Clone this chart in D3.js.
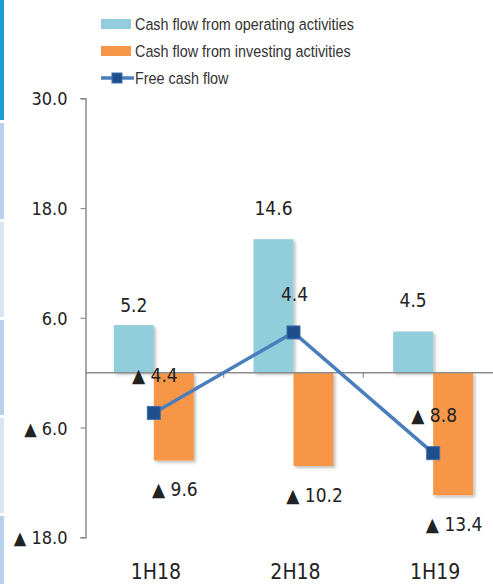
<!DOCTYPE html>
<html>
<head>
<meta charset="utf-8">
<script src="https://cdn.jsdelivr.net/npm/d3@7"></script>
<style>
  html, body { margin: 0; padding: 0; background: #ffffff; }
  svg { display: block; }
</style>
</head>
<body>
<svg id="chart" width="493" height="584"></svg>
<script>
// ---------- data ----------
const categories = ["1H18", "2H18", "1H19"];
const operatingCF = [5.2, 14.6, 4.5];
const investingCF = [-9.6, -10.2, -13.4];
const freeCF = [-4.4, 4.4, -8.8];
const yTickValues = [30, 18, 6, -6, -18];
const seriesNames = ["Cash flow from operating activities", "Cash flow from investing activities", "Free cash flow"];

// ---------- styles ----------
const numFont = "'DejaVu Sans Condensed', 'DejaVu Sans', sans-serif";
const legendFont = "'Liberation Sans', Arial, sans-serif";
const blue = "#92cddc", orange = "#f79646", lineColor = "#4a7ebb", markerFill = "#1f4e8c";

const svg = d3.select("#chart");

// decorative left strip
const stripBreaks = [0, 120, 219, 317, 415, 513, 584];
const stripColors = ["#1a9fd6", "#b9d0ea", "#dbe6f3", "#b9d0ea", "#dbe6f3", "#b9d0ea"];
svg.selectAll("rect.strip").data(stripColors).join("rect")
  .attr("class", "strip")
  .attr("x", 0).attr("width", 4)
  .attr("y", (d, i) => stripBreaks[i] + (i === 0 ? 0 : 3))
  .attr("height", (d, i) => stripBreaks[i + 1] - stripBreaks[i] - (i === 0 ? 0 : 3))
  .attr("fill", d => d);

// shadow filter
const defs = svg.append("defs");
const f = defs.append("filter").attr("id", "shadow").attr("x", "-20%").attr("y", "-20%").attr("width", "150%").attr("height", "150%");
f.append("feDropShadow").attr("dx", 2).attr("dy", 2).attr("stdDeviation", 1.5)
  .attr("flood-color", "#000").attr("flood-opacity", 0.25);

// ---------- scales ----------
const x = d3.scaleBand().domain(categories).range([84, 503]).paddingInner(0).paddingOuter(0);
const y = d3.scaleLinear().domain([-18, 30]).range([537.3, 98.3]);
const barW = 40;
const cx = c => x(c) + x.bandwidth() / 2;

// ---------- y axis ----------
const fmt = v => v < 0 ? "\u25B2 " + Math.abs(v).toFixed(1) : v.toFixed(1);
const yAxis = d3.axisLeft(y).tickValues(yTickValues).tickSize(5).tickPadding(13).tickFormat(fmt);
const gy = svg.append("g").attr("transform", "translate(85.5,0)").call(yAxis);
gy.select(".domain").attr("stroke", "#8c8c8c").attr("stroke-width", 1.5);
gy.selectAll(".tick line").attr("stroke", "#8c8c8c").attr("stroke-width", 1.2);
gy.selectAll(".tick text").attr("font-family", numFont).attr("font-size", 18).attr("fill", "#222")
  .attr("dy", "0.36em");

// ---------- bars ----------
const gBars = svg.append("g").attr("filter", "url(#shadow)");
gBars.selectAll("rect.op").data(categories).join("rect")
  .attr("class", "op")
  .attr("x", c => cx(c) - barW)
  .attr("width", barW)
  .attr("y", (c, i) => y(Math.max(0, operatingCF[i])))
  .attr("height", (c, i) => Math.abs(y(operatingCF[i]) - y(0)))
  .attr("fill", blue);
gBars.selectAll("rect.inv").data(categories).join("rect")
  .attr("class", "inv")
  .attr("x", c => cx(c))
  .attr("width", barW)
  .attr("y", (c, i) => y(Math.max(0, investingCF[i])))
  .attr("height", (c, i) => Math.abs(y(investingCF[i]) - y(0)))
  .attr("fill", orange);

// ---------- x axis (zero line) ----------
svg.append("line").attr("x1", 85.5).attr("x2", 493).attr("y1", y(0)).attr("y2", y(0))
  .attr("stroke", "#8c8c8c").attr("stroke-width", 1.5);
svg.selectAll("line.ctick").data(categories.slice(1)).join("line")
  .attr("class", "ctick")
  .attr("x1", c => x(c)).attr("x2", c => x(c))
  .attr("y1", y(0)).attr("y2", y(0) + 5)
  .attr("stroke", "#8c8c8c").attr("stroke-width", 1.2);

// category labels
svg.selectAll("text.cat").data(categories).join("text")
  .attr("class", "cat")
  .attr("x", c => cx(c) + 2)
  .attr("y", 579)
  .attr("text-anchor", "middle")
  .attr("font-family", numFont).attr("font-size", 21).attr("fill", "#222")
  .text(c => c);

// ---------- free cash flow line ----------
const line = d3.line().x((d, i) => cx(categories[i])).y(d => y(d));
svg.append("path").datum(freeCF).attr("d", line)
  .attr("fill", "none").attr("stroke", lineColor).attr("stroke-width", 3.5);
svg.selectAll("rect.mk").data(freeCF).join("rect")
  .attr("class", "mk")
  .attr("x", (d, i) => cx(categories[i]) - 6.5)
  .attr("y", d => y(d) - 6.5)
  .attr("width", 13).attr("height", 13)
  .attr("fill", markerFill).attr("stroke", "#3f6fae").attr("stroke-width", 1);

// ---------- data labels ----------
const opGap = [13, 24, 25];
svg.selectAll("text.opl").data(operatingCF).join("text")
  .attr("class", "opl")
  .attr("x", (d, i) => cx(categories[i]) - barW / 2)
  .attr("y", (d, i) => y(d) - opGap[i])
  .attr("text-anchor", "middle")
  .attr("font-family", numFont).attr("font-size", 19).attr("fill", "#222")
  .text(d => fmt(d));
svg.selectAll("text.invl").data(investingCF).join("text")
  .attr("class", "invl")
  .attr("x", (d, i) => cx(categories[i]) + barW / 2 + 1)
  .attr("y", d => y(d) + 36)
  .attr("text-anchor", "middle")
  .attr("font-family", numFont).attr("font-size", 19).attr("fill", "#222")
  .text(d => fmt(d));
svg.selectAll("text.fcfl").data(freeCF).join("text")
  .attr("class", "fcfl")
  .attr("x", (d, i) => cx(categories[i]) + 1)
  .attr("y", d => y(d) - 31)
  .attr("text-anchor", "middle")
  .attr("font-family", numFont).attr("font-size", 19).attr("fill", "#222")
  .text(d => fmt(d));

// ---------- legend ----------
const lg = svg.append("g");
const rowY = [24, 51, 78];
lg.append("rect").attr("x", 101).attr("y", rowY[0] - 5).attr("width", 30).attr("height", 10).attr("fill", blue);
lg.append("rect").attr("x", 101).attr("y", rowY[1] - 5).attr("width", 30).attr("height", 10).attr("fill", orange);
lg.append("line").attr("x1", 101).attr("x2", 134).attr("y1", rowY[2]).attr("y2", rowY[2])
  .attr("stroke", lineColor).attr("stroke-width", 3.5);
lg.append("rect").attr("x", 112).attr("y", rowY[2] - 5).attr("width", 10).attr("height", 10)
  .attr("fill", markerFill).attr("stroke", "#3f6fae").attr("stroke-width", 1);
const lt = lg.selectAll("text").data(seriesNames).join("text")
  .attr("x", 0)
  .attr("y", 0)
  .attr("font-family", legendFont).attr("font-size", 16.5).attr("fill", "#333")
  .text(d => d);
// condense legend text horizontally (Calibri-like width)
const natural = lt.nodes()[0].getComputedTextLength();
const sx = natural > 0 ? 219 / natural : 1;
lt.attr("transform", (d, i) => `translate(135,${rowY[i] + 6}) scale(${sx},1)`);
</script>
</body>
</html>
